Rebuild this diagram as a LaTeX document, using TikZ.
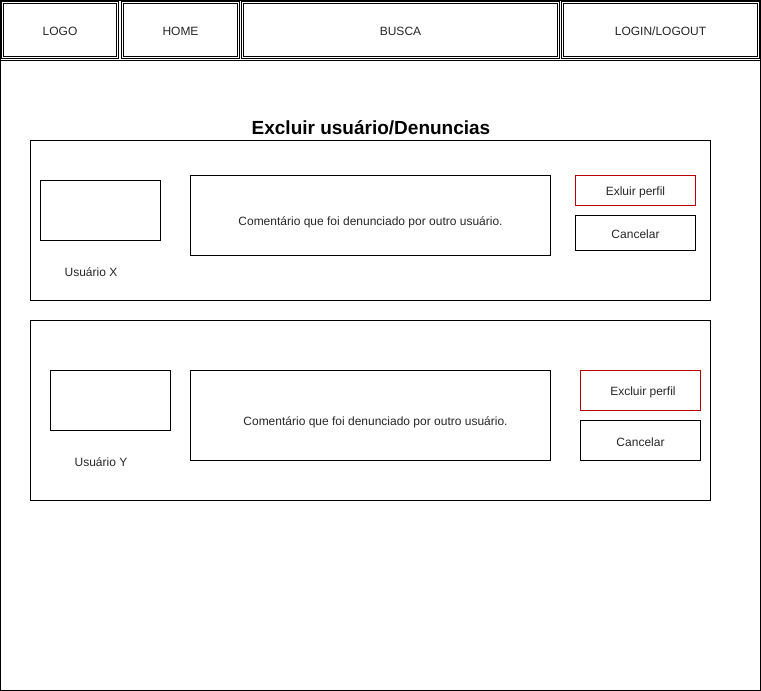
\documentclass[tikz,border=0pt]{standalone}
\usepackage{fontspec}
\setmainfont{Liberation Sans}
\begin{document}
\begin{tikzpicture}[x=1pt,y=-1pt,
  box/.style={draw=black,line width=1pt},
  txt/.style={font=\fontsize{12}{14}\selectfont,text=black!85,inner sep=0pt,yshift=-1.5pt},
  redbox/.style={draw=red!70!black,line width=1pt},
  hdr/.style={draw=black,line width=1pt}]
\useasboundingbox (0,0) rectangle (761,691);
\draw[box] (0.5,0.5) rectangle (760.5,690.5);
% header double boxes
\foreach \a/\b/\n in {1/119/logo,121/240/home,241/560/busca,561/760/login}{
  \draw[hdr] (\a+0.5,1.5) rectangle (\b-0.5,58.5);
  \draw[hdr] (\a+2.5,3.5) rectangle (\b-2.5,56.5);
}
\draw[box] (0,60.5) -- (761,60.5);
\node[txt] (logo) at (60,30) {LOGO};
\node[txt] (home) at (180.5,30) {HOME};
\node[txt] (busca) at (400.5,30) {BUSCA};
\node[txt] (login) at (660.5,30) {LOGIN/LOGOUT};
% title
\node[inner sep=0pt,font=\fontsize{19}{22}\bfseries\selectfont,yshift=-1.5pt] (title) at (371,126) {Excluir usuário/Denuncias};
% panel 1
\draw[box] (30.5,140.5) rectangle (710.5,300.5);
\draw[box] (40.5,180.5) rectangle (160.5,240.5);
\node[txt] (ux) at (91,271) {Usuário X};
\draw[box] (190.5,175.5) rectangle (550.5,255.5);
\node[txt] (c1) at (370.5,220.5) {Comentário que foi denunciado por outro usuário.};
\draw[redbox] (575.5,175.5) rectangle (695.5,205.5);
\node[txt] (e1) at (635.5,190.5) {Exluir perfil};
\draw[box] (575.5,215.5) rectangle (695.5,250.5);
\node[txt] (k1) at (635.5,233) {Cancelar};
% panel 2
\draw[box] (30.5,320.5) rectangle (710.5,500.5);
\draw[box] (50.5,370.5) rectangle (170.5,430.5);
\node[txt] (uy) at (101,461) {Usuário Y};
\draw[box] (190.5,370.5) rectangle (550.5,460.5);
\node[txt] (c2) at (375.5,420.5) {Comentário que foi denunciado por outro usuário.};
\draw[redbox] (580.5,370.5) rectangle (700.5,410.5);
\node[txt] (e2) at (643,390.5) {Excluir perfil};
\draw[box] (580.5,420.5) rectangle (700.5,460.5);
\node[txt] (k2) at (640.5,440.5) {Cancelar};
\end{tikzpicture}
\end{document}
